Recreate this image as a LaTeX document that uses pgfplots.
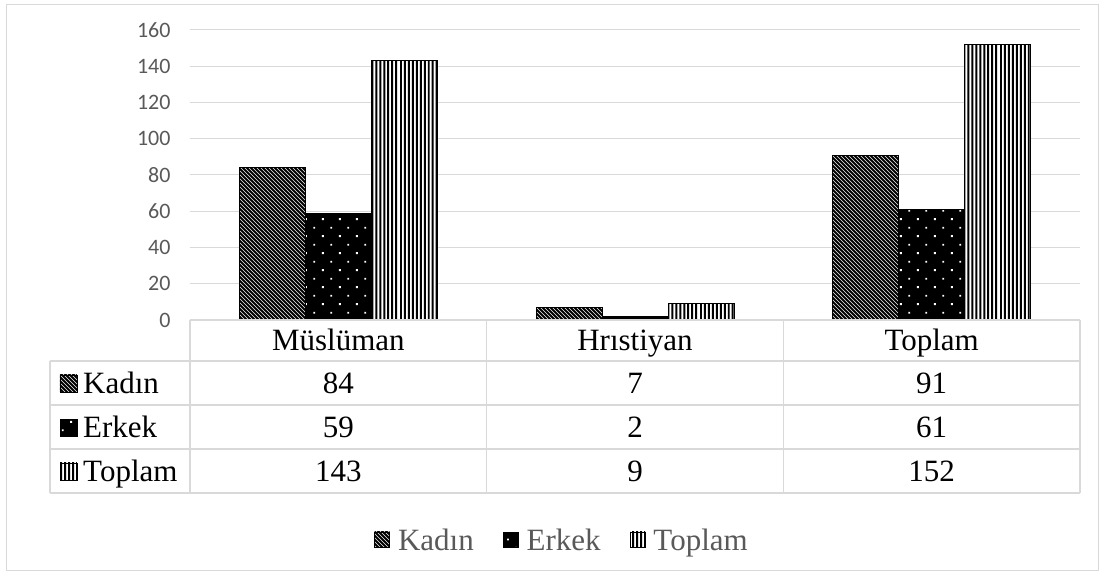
\documentclass[border=0pt]{standalone}
\usepackage{fontspec}
\setmainfont{Liberation Serif}
\newfontfamily\carlito{Carlito}
\usepackage{pgfplots}
\pgfplotsset{compat=1.18}
\usepackage{pgfplotstable}
\usetikzlibrary{patterns}
\definecolor{gridgray}{HTML}{D9D9D9}
\definecolor{txtgray}{HTML}{595959}

\pgfdeclarepatternformonly{kstripes}{\pgfpointorigin}{\pgfpoint{700pt}{700pt}}{\pgfpoint{700pt}{700pt}}{
  \foreach \k in {0,...,352}{
    \pgfpathmoveto{\pgfpoint{-10pt}{\k*4pt+10pt}}
    \pgfpathlineto{\pgfpoint{\k*4pt+10pt}{-10pt}}
  }
  \pgfsetlinewidth{1.9pt}
  \pgfusepath{stroke}}
\pgfdeclarepatternformonly{vstripes}{\pgfpointorigin}{\pgfpoint{100pt}{1000pt}}{\pgfpoint{100pt}{1000pt}}{
  \foreach \k in {0,...,24}{
    \pgfpathrectangle{\pgfpoint{\k*4pt}{0pt}}{\pgfpoint{2pt}{1000pt}}
  }
  \pgfusepath{fill}}
\pgfdeclarepatternformonly{wdots}{\pgfpointorigin}{\pgfpoint{16.8pt}{16.8pt}}{\pgfpoint{16.8pt}{16.8pt}}{
  \pgfpathrectangle{\pgfpoint{3pt}{3pt}}{\pgfpoint{1.8pt}{1.8pt}}
  \pgfpathrectangle{\pgfpoint{11.4pt}{11.4pt}}{\pgfpoint{1.8pt}{1.8pt}}\pgfusepath{fill}}

\pgfplotstableread{
x Kadin Erkek Toplam
0 84 59 143
1 7 2 9
2 91 61 152
}\datatable

\tikzset{
 kadin/.style={draw=black, line width=0.8pt, fill=white, postaction={pattern=kstripes, pattern color=black}},
 erkek/.style={draw=black, line width=0.8pt, fill=black, postaction={pattern=wdots, pattern color=white}},
 toplam/.style={draw=black, line width=0.8pt, fill=white, postaction={pattern=vstripes, pattern color=black}},
}

\begin{document}
\begin{tikzpicture}
\useasboundingbox (-190pt,-257pt) rectangle (915pt,320pt);
\begin{axis}[
 at={(0,0)}, anchor=south west,
 scale only axis, width=890pt, height=290pt,
 xmin=-0.5, xmax=2.5, ymin=0, ymax=160,
 ybar=0pt, bar width=66pt,
 xtick=\empty, ytick={0,20,...,160},
 ymajorgrids, grid style={gridgray, line width=1pt},
 axis line style={draw=none}, tick style={draw=none},
 yticklabel style={font=\carlito\fontsize{22}{26}\selectfont, text=txtgray},
 yticklabel={\pgfmathprintnumber{\tick}\hspace*{16pt}},
 /pgf/number format/assume math mode=true,
 clip=false,
 legend columns=-1,
 legend image code/.code={\draw[#1] (0pt,-7pt) rectangle (15pt,8pt);},
 legend style={font=\fontsize{31}{36}\selectfont, text=txtgray, draw=none, fill=none,
   at={(0.418,-0.7586)}, anchor=center,
   /tikz/every odd column/.append style={column sep=6pt},
   /tikz/every even column/.append style={column sep=27pt}},
]
\addplot[kadin] table[x=x,y=Kadin]{\datatable};
\addplot[erkek] table[x=x,y=Erkek]{\datatable};
\addplot[toplam] table[x=x,y=Toplam]{\datatable};
\legend{Kadın,Erkek,Toplam}
\end{axis}
\begin{scope}[x=1pt,y=1pt]
 \draw[gridgray, line width=1pt] (-183,315) rectangle (908,-251);
 \draw[gridgray, line width=1.2pt] (0,0)--(890,0);
 \foreach \yy in {-41,-85,-129,-173} \draw[gridgray, line width=1.2pt] (-140,\yy)--(890,\yy);
 \foreach \xx in {0,296.67,593.33,890} \draw[gridgray, line width=1.2pt] (\xx,0)--(\xx,-173);
 \draw[gridgray, line width=1.2pt] (-140,-41)--(-140,-173);
 \begin{scope}[every node/.style={font=\fontsize{31}{36}\selectfont, inner sep=0pt}]
 \node[anchor=base] at (148.33,-31) {Müslüman};
 \node[anchor=base] at (445,-31) {Hrıstiyan};
 \node[anchor=base] at (741.67,-31) {Toplam};
 \draw[kadin] (-130,-72) rectangle (-113,-55);
 \draw[erkek] (-130,-116) rectangle (-113,-99);
 \draw[toplam] (-130,-160) rectangle (-113,-143);
 \node[anchor=base west] at (-107,-74) {Kadın};
 \node[anchor=base west] at (-107,-118) {Erkek};
 \node[anchor=base west] at (-107,-162) {Toplam};
 \foreach \r/\xx in {0/148.33,1/445,2/741.67}{
   \pgfplotstablegetelem{\r}{Kadin}\of\datatable
   \node[anchor=base] at (\xx,-74) {\pgfplotsretval};
   \pgfplotstablegetelem{\r}{Erkek}\of\datatable
   \node[anchor=base] at (\xx,-118) {\pgfplotsretval};
   \pgfplotstablegetelem{\r}{Toplam}\of\datatable
   \node[anchor=base] at (\xx,-162) {\pgfplotsretval};
 }
 \end{scope}
\end{scope}
\end{tikzpicture}
\end{document}
